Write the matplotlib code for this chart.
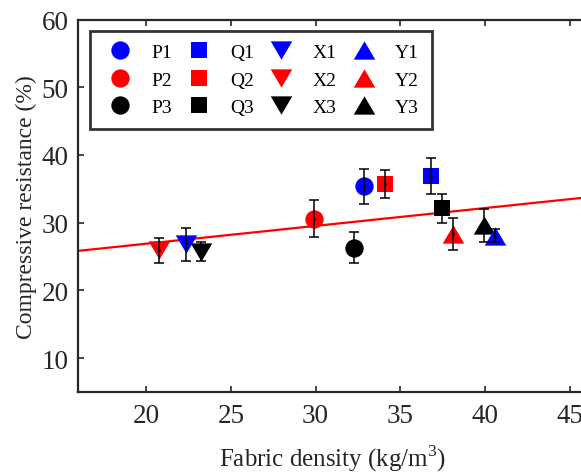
import matplotlib
matplotlib.use("Agg")
import matplotlib.pyplot as plt
import numpy as np
from matplotlib.lines import Line2D

plt.rcParams['font.family'] = ['Liberation Serif', 'DejaVu Serif']
plt.rcParams['mathtext.fontset'] = 'custom'
plt.rcParams['mathtext.rm'] = 'Liberation Serif'

# ---- data ----
labels = ['P1', 'P2', 'P3', 'Q1', 'Q2', 'Q3', 'X1', 'X2', 'X3', 'Y1', 'Y2', 'Y3']
density = [32.87, 29.92, 32.25, 36.79, 34.09, 37.44, 22.35, 20.78, 23.22, 40.58, 38.09, 39.94]
resistance = [35.4, 30.6, 26.3, 36.9, 35.7, 32.1, 26.8, 25.9, 25.7, 28.1, 28.3, 29.6]
error = [2.6, 2.7, 2.3, 2.65, 2.1, 2.2, 2.4, 1.9, 1.4, 1.0, 2.4, 2.4]
fit_x = [16, 46]
fit_y = [25.84, 33.74]

colors = {'1': (0, 0, 1), '2': (1, 0, 0), '3': (0, 0, 0)}
tri_down = [(-1, 0.85), (1, 0.85), (0, -0.85), (-1, 0.85)]
tri_up = [(-1, -0.85), (1, -0.85), (0, 0.85), (-1, -0.85)]
markers = {'P': ('o', 13.2), 'Q': ('s', 11.0), 'X': (tri_down, 15.5), 'Y': (tri_up, 15.5)}

fig = plt.figure(figsize=(5.81, 4.77), dpi=100)
ax = fig.add_axes([78.3 / 581, 84 / 477, 508.5 / 581, 372.5 / 477])

ax.plot(fit_x, fit_y, color=(1, 0, 0), lw=1.6, zorder=2)

draw_order = ['P1', 'P2', 'P3', 'Q1', 'Q2', 'Q3', 'X1', 'X2', 'X3', 'Y3', 'Y2', 'Y1']
handles = {}
for z, lab in enumerate(draw_order):
    i = labels.index(lab)
    m, ms = markers[lab[0]]
    c = colors[lab[1]]
    ax.plot([density[i]], [resistance[i]], linestyle='none', marker=m, ms=ms,
            mfc=c, mec=c, mew=0, zorder=3 + z * 0.01)
    ax.errorbar([density[i]], [resistance[i]], yerr=[error[i]], fmt='.', color='black',
                ms=2, elinewidth=1.1, capsize=3.6, capthick=1.1, zorder=4 + z * 0.01)
    handles[lab] = Line2D([], [], linestyle='none', marker=m, ms=ms, mfc=c, mec=c, mew=0)

ax.set_xlim(16, 46)
ax.set_ylim(5, 60)
ax.set_xticks([20, 25, 30, 35, 40, 45])
ax.set_yticks([10, 20, 30, 40, 50, 60])
dark = '#262626'
for s in ax.spines.values():
    s.set_linewidth(1.6)
    s.set_color(dark)
ax.tick_params(direction='in', length=4, width=1.2, colors=dark, labelsize=19.5,
               top=True, right=True, pad=8)
ax.tick_params(axis='y', pad=7)
ax.set_xlabel('Fabric density (kg/m$^{3}$)', fontsize=18, color=dark, labelpad=10)
ax.set_ylabel('Compressive resistance (%)', fontsize=17, color=dark, labelpad=3)

leg = fig.legend([handles[l] for l in labels], labels, ncol=4, loc='upper left',
                 bbox_to_anchor=(90 / 581, 1 - 32 / 477), borderaxespad=0,
                 fontsize=14, frameon=True, fancybox=False, handletextpad=0.7,
                 columnspacing=0.5, labelspacing=0.5, borderpad=0.65, handlelength=1.8)
leg.get_frame().set_edgecolor('black')
leg.get_frame().set_linewidth(2)

fig.savefig('out.png', dpi=100)
